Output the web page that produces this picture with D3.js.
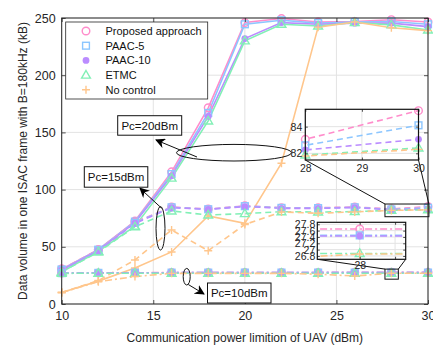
<!DOCTYPE html>
<html>
<head>
<meta charset="utf-8">
<script src="https://cdn.jsdelivr.net/npm/d3@7"></script>
<style>
	body { margin: 0; background: #fff; }
	svg { font-family: "Liberation Sans", Arial, sans-serif; }
</style>
</head>
<body>
<div id="chart"></div>
<script>

let width = 433;
let height = 349;

// x values (dBm)
let powers = [10, 12, 14, 16, 18, 20, 22, 24, 26, 28, 30];
let xTicks = [10, 15, 20, 25, 30];
let yTicks = [0, 50, 100, 150, 200, 250];

let seriesNames = ["Proposed approach", "PAAC-5", "PAAC-10", "ETMC", "No control"];
let seriesColors = ["#ff8ccb", "#8cc6ff", "#bb8cff", "#82f0b6", "#ffc68c"];
let seriesMarkers = ["circle", "square", "dot", "triangle", "plus"];

// Pc = 20 dBm (solid)
let proposed20 = [30.5, 47.5, 72.5, 115.5, 171.5, 246, 249.5, 246.5, 247, 248.5, 246.5];
let paac5_20   = [30, 47.5, 72, 113.5, 167, 244.5, 248, 245.5, 246.5, 247, 244.5];
let paac10_20  = [29.5, 47, 71, 112, 164, 232, 246, 244.5, 245.5, 245.5, 242.5];
let etmc20     = [28, 46, 68, 110, 160, 230, 244.5, 243, 246, 244, 239.5];
let noctrl20   = [10, 20, 31.5, 45.5, 77, 70.5, 123, 242, 246.5, 241.5, 239];

// Pc = 15 dBm (dashed)
let proposed15 = [30.5, 47.5, 71.5, 84.8, 83, 85.8, 84.2, 84.2, 84.8, 83.05, 85.2];
let paac5_15   = [30, 47, 71, 84.5, 82.8, 85.5, 84, 83.8, 84.5, 82.6, 84.1];
let paac10_15  = [29.5, 46.5, 70.5, 84.2, 82.7, 85.2, 83.6, 83.6, 84.3, 82.25, 83.05];
let etmc15     = [28, 45.5, 67.5, 81.3, 77.8, 79, 80.7, 80.4, 80.8, 81.87, 82.4];
let noctrl15   = [10, 20.5, 38.5, 64.7, 46.6, 69.5, 80.5, 79.3, 80.5, 81.8, 82.3];

// Pc = 10 dBm (dash-dot)
let proposed10 = [27, 27.2, 27.3, 27.5, 27.5, 27.6, 27.6, 27.6, 27.65, 27.65, 27.65];
let paac5_10   = [27, 27.2, 27.3, 27.4, 27.4, 27.45, 27.45, 27.45, 27.45, 27.45, 27.45];
let paac10_10  = [27, 27.2, 27.3, 27.4, 27.4, 27.43, 27.43, 27.43, 27.43, 27.43, 27.43];
let etmc10     = [26.8, 26.85, 26.85, 26.87, 26.87, 26.88, 26.88, 26.88, 26.88, 26.88, 26.88];
let noctrl10   = [10, 19.5, 24, 26.8, 26.8, 26.8, 26.8, 26, 24.5, 26.86, 26.86];

// inset tick values
let inset1XTicks = [28, 29, 30];
let inset1YTicks = [82, 84];
let inset2XTicks = [28, 28.05];
let inset2YTicks = [26.8, 27, 27.2, 27.4, 27.6, 27.8];


let groups = [
	{ dash: null,      data: [proposed20, paac5_20, paac10_20, etmc20, noctrl20] },
	{ dash: "6,4",     data: [proposed15, paac5_15, paac10_15, etmc15, noctrl15] },
	{ dash: "7,3,2,3", data: [proposed10, paac5_10, paac10_10, etmc10, noctrl10] }
	];

let box = { left: 61.7, right: 428, top: 18, bottom: 304 };
let textColor = "#262626";

let svg = d3.select("#chart")
	.append("svg")
		.attr("width", width)
		.attr("height", height)
	;

let defs = svg.append("defs");
defs.append("marker")
	.attr("id", "arrow")
	.attr("viewBox", "0 0 10 10")
	.attr("refX", 9)
	.attr("refY", 5)
	.attr("markerWidth", 10)
	.attr("markerHeight", 10)
	.attr("markerUnits", "userSpaceOnUse")
	.attr("orient", "auto")
	.append("path")
		.attr("d", "M0,0 L10,5 L0,10 L3,5 Z")
		.attr("fill", "#000")
	;

let xScale = d3.scaleLinear().domain([10, 30]).range([box.left, box.right]);
let yScale = d3.scaleLinear().domain([0, 250]).range([box.bottom, box.top]);


// draw a MATLAB-ish marker
function drawMarker(g, type, cx, cy, color) {
	if (type === "circle") {
		g.append("circle").attr("cx", cx).attr("cy", cy).attr("r", 3.8)
			.attr("fill", "none").attr("stroke", color).attr("stroke-width", 1.4);
		}
	else if (type === "square") {
		g.append("rect").attr("x", cx - 3.4).attr("y", cy - 3.4)
			.attr("width", 6.8).attr("height", 6.8)
			.attr("fill", "none").attr("stroke", color).attr("stroke-width", 1.4);
		}
	else if (type === "dot") {
		g.append("circle").attr("cx", cx).attr("cy", cy).attr("r", 3.4)
			.attr("fill", color);
		}
	else if (type === "triangle") {
		g.append("path")
			.attr("d", `M${cx},${cy - 4.6} L${cx + 4.4},${cy + 3} L${cx - 4.4},${cy + 3} Z`)
			.attr("fill", "none").attr("stroke", color).attr("stroke-width", 1.4);
		}
	else if (type === "plus") {
		g.append("path")
			.attr("d", `M${cx - 4},${cy} H${cx + 4} M${cx},${cy - 4} V${cy + 4}`)
			.attr("stroke", color).attr("stroke-width", 1.4);
		}
	}


// gridlines for a box
function drawFrame(g, xs, ys, xt, yt, opts) {
	let [x0, x1] = xs.range();
	let [y0, y1] = ys.range();
	if (opts.fill) {
		g.append("rect")
			.attr("x", x0).attr("y", y1)
			.attr("width", x1 - x0).attr("height", y0 - y1)
			.attr("fill", "#fff");
		}
	g.selectAll(".gx").data(xt).enter().append("line")
		.attr("x1", d => xs(d)).attr("x2", d => xs(d))
		.attr("y1", y0).attr("y2", y1)
		.attr("stroke", "#e3e3e3").attr("stroke-width", 1);
	g.selectAll(".gy").data(yt).enter().append("line")
		.attr("y1", d => ys(d)).attr("y2", d => ys(d))
		.attr("x1", x0).attr("x2", x1)
		.attr("stroke", "#e3e3e3").attr("stroke-width", 1);
	}

function drawBorder(g, xs, ys, xt, yt, opts) {
	let [x0, x1] = xs.range();
	let [y0, y1] = ys.range();
	let tick = opts.tick;

	// axes through d3 so ticks come from the scales
	let bottom = g.append("g").attr("transform", `translate(0,${y0})`)
		.call(d3.axisBottom(xs).tickValues(xt).tickSizeInner(-tick).tickSizeOuter(0)
			.tickPadding(opts.xpad).tickFormat(opts.xfmt));
	let top = g.append("g").attr("transform", `translate(0,${y1})`)
		.call(d3.axisTop(xs).tickValues(xt).tickSizeInner(-tick).tickSizeOuter(0).tickFormat(""));
	let left = g.append("g").attr("transform", `translate(${x0},0)`)
		.call(d3.axisLeft(ys).tickValues(yt).tickSizeInner(-tick).tickSizeOuter(0)
			.tickPadding(opts.ypad).tickFormat(opts.yfmt));
	let right = g.append("g").attr("transform", `translate(${x1},0)`)
		.call(d3.axisRight(ys).tickValues(yt).tickSizeInner(-tick).tickSizeOuter(0).tickFormat(""));

	[bottom, top, left, right].forEach(a => {
		a.select(".domain").remove();
		a.selectAll("line").attr("stroke", textColor).attr("stroke-width", 0.8);
		a.selectAll("text")
			.attr("fill", textColor)
			.style("font-size", opts.font + "px")
			.style("font-family", '"Liberation Sans", Arial, sans-serif');
		});

	g.append("rect")
		.attr("x", x0).attr("y", y1)
		.attr("width", x1 - x0).attr("height", y0 - y1)
		.attr("fill", "none")
		.attr("stroke", opts.stroke || textColor)
		.attr("stroke-width", opts.strokeWidth || 1);
	}


// draw series from a group list in given scales
function drawSeries(g, xs, ys, groupList, clipId) {
	let [dx0, dx1] = xs.domain();
	let [dy0, dy1] = ys.domain();
	let lineGen = d3.line()
		.x(d => xs(d[0]))
		.y(d => ys(d[1]));
	let lines = g.append("g").attr("clip-path", `url(#${clipId})`);
	groupList.forEach(grp => {
		grp.data.forEach((vals, i) => {
			let pts = powers.map((p, k) => [p, vals[k]]);
			lines.append("path")
				.datum(pts)
				.attr("d", lineGen)
				.attr("fill", "none")
				.attr("stroke", seriesColors[i])
				.attr("stroke-width", 1.6)
				.attr("stroke-dasharray", grp.dash)
				;
			let mg = g.append("g");
			pts.forEach(pt => {
				if (pt[0] < dx0 - 1e-9 || pt[0] > dx1 + 1e-9) return;
				if (pt[1] < dy0 || pt[1] > dy1) return;
				drawMarker(mg, seriesMarkers[i], xs(pt[0]), ys(pt[1]), seriesColors[i]);
				});
			});
		});
	}

function addClip(id, xs, ys) {
	let [x0, x1] = xs.range();
	let [y0, y1] = ys.range();
	defs.append("clipPath").attr("id", id)
		.append("rect")
			.attr("x", x0).attr("y", y1)
			.attr("width", x1 - x0).attr("height", y0 - y1);
	}


// ---- main axes ----
let mainG = svg.append("g");
drawFrame(mainG, xScale, yScale, xTicks, yTicks, {});
addClip("clipMain", xScale, yScale);
drawSeries(mainG, xScale, yScale, groups, "clipMain");


// zoom rectangles + connectors in main axes
let zoomRect1 = { x: [27.65, 30.05], y: [76.3, 87.4] };
let zoomRect2 = { x: [27.65, 28.38], y: [21.7, 30.5] };

function zoomBox(r) {
	mainG.append("rect")
		.attr("x", xScale(r.x[0])).attr("y", yScale(r.y[1]))
		.attr("width", xScale(r.x[1]) - xScale(r.x[0]))
		.attr("height", yScale(r.y[0]) - yScale(r.y[1]))
		.attr("fill", "none").attr("stroke", "#111").attr("stroke-width", 1);
	}
zoomBox(zoomRect1);
zoomBox(zoomRect2);


// ---- inset 1 (Pc = 15 dBm around 28-30) ----
let ix1 = d3.scaleLinear().domain([28, 30]).range([305.3, 418.5]);
let iy1 = d3.scaleLinear().domain([81.5, 85.3]).range([160, 109.3]);

// ---- inset 2 (Pc = 10 dBm around 28) ----
let ix2 = d3.scaleLinear().domain([27.94, 28.065]).range([317.3, 405.7]);
let iy2 = d3.scaleLinear().domain([26.695, 27.863]).range([259.3, 222.3]);

// connectors
let connectors = [
	[[ix1.range()[0], iy1.range()[0]], [xScale(zoomRect1.x[0]), yScale(zoomRect1.y[1])]],
	[[ix1.range()[1], iy1.range()[0]], [xScale(zoomRect1.x[1]), yScale(zoomRect1.y[1])]],
	[[ix2.range()[0], iy2.range()[0]], [xScale(zoomRect2.x[0]), yScale(zoomRect2.y[1])]],
	[[ix2.range()[1], iy2.range()[0]], [xScale(zoomRect2.x[1]), yScale(zoomRect2.y[1])]]
	];
svg.selectAll(".conn").data(connectors).enter().append("line")
	.attr("x1", d => d[0][0]).attr("y1", d => d[0][1])
	.attr("x2", d => d[1][0]).attr("y2", d => d[1][1])
	.attr("stroke", "#111").attr("stroke-width", 1);


// ---- annotations ----
let ann = svg.append("g");
function ellipse(cx, cy, rx, ry) {
	ann.append("ellipse")
		.attr("cx", cx).attr("cy", cy).attr("rx", rx).attr("ry", ry)
		.attr("fill", "none").attr("stroke", "#111").attr("stroke-width", 1);
	}
function arrow(x1, y1, x2, y2) {
	ann.append("line")
		.attr("x1", x1).attr("y1", y1).attr("x2", x2).attr("y2", y2)
		.attr("stroke", "#111").attr("stroke-width", 1)
		.attr("marker-end", "url(#arrow)");
	}
function textBox(x, y, w, h, label) {
	ann.append("rect")
		.attr("x", x).attr("y", y).attr("width", w).attr("height", h)
		.attr("fill", "#fff").attr("stroke", "#111").attr("stroke-width", 1);
	ann.append("text")
		.attr("x", x + w / 2).attr("y", y + h / 2)
		.attr("dy", "0.36em")
		.attr("text-anchor", "middle")
		.style("font-size", "11.5px")
		.attr("fill", "#111")
		.text(label);
	}

ellipse(234, 152.7, 57.5, 8.3);
arrow(197, 157, 156, 140);
textBox(117.7, 115.7, 64, 19.5, "Pc=20dBm");

ellipse(160.5, 228.3, 4.5, 21.7);
arrow(161.7, 208.3, 140, 188.3);
textBox(84.3, 166.7, 63.5, 20.5, "Pc=15dBm");

ellipse(186.7, 276.7, 3.5, 8.3);
arrow(188.3, 284.5, 204, 294);
textBox(207.5, 283, 63.5, 20, "Pc=10dBm");


// ---- main border + axes ----
drawBorder(mainG, xScale, yScale, xTicks, yTicks, {
	tick: 4, xpad: 7, ypad: 6, font: 12.5,
	xfmt: d3.format("d"), yfmt: d3.format("d")
	});


// ---- insets drawn on top ----
let in1 = svg.append("g");
drawFrame(in1, ix1, iy1, inset1XTicks, inset1YTicks, { fill: true });
addClip("clipIn1", ix1, iy1);
drawSeries(in1, ix1, iy1, [groups[1]], "clipIn1");
drawBorder(in1, ix1, iy1, inset1XTicks, inset1YTicks, {
	tick: 2.5, xpad: 5, ypad: 3, font: 10.5, strokeWidth: 1.2, stroke: "#111",
	xfmt: d3.format("d"), yfmt: d3.format("d")
	});

let in2 = svg.append("g");
drawFrame(in2, ix2, iy2, inset2XTicks, inset2YTicks, { fill: true });
addClip("clipIn2", ix2, iy2);
drawSeries(in2, ix2, iy2, [groups[2]], "clipIn2");
drawBorder(in2, ix2, iy2, inset2XTicks, inset2YTicks, {
	tick: 2.5, xpad: 2, ypad: 2, font: 10.5, strokeWidth: 1.2, stroke: "#111",
	xfmt: d => (d === 28 ? "28" : ""), yfmt: d => String(+d.toFixed(1))
	});


// ---- legend ----
let legend = svg.append("g");
legend.append("rect")
	.attr("x", 65.7).attr("y", 22)
	.attr("width", 142).attr("height", 77)
	.attr("fill", "#fff").attr("stroke", textColor).attr("stroke-width", 0.8);
seriesNames.forEach((name, i) => {
	let yy = 31 + i * 14.7;
	drawMarker(legend, seriesMarkers[i], 86, yy, seriesColors[i]);
	legend.append("text")
		.attr("x", 105.5).attr("y", yy)
		.attr("dy", "0.36em")
		.style("font-size", "11px")
		.attr("fill", "#111")
		.text(name);
	});


// ---- axis labels ----
svg.append("text")
	.attr("x", (box.left + box.right) / 2)
	.attr("y", 342)
	.attr("text-anchor", "middle")
	.style("font-size", "12px")
	.attr("fill", textColor)
	.text("Communication power limition of UAV (dBm)");

svg.append("text")
	.attr("transform", `translate(27, ${(box.top + box.bottom) / 2}) rotate(-90)`)
	.attr("text-anchor", "middle")
	.style("font-size", "12px")
	.attr("fill", textColor)
	.text("Data volume in one ISAC frame with B=180kHz (kB)");

</script>
</body>
</html>
